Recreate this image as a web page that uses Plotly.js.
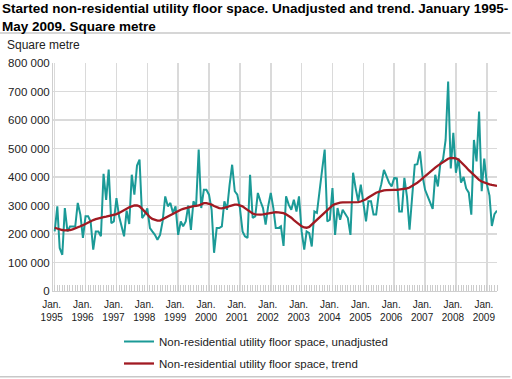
<!DOCTYPE html>
<html>
<head>
<meta charset="utf-8">
<script src="https://cdn.plot.ly/plotly-3.0.1.min.js"></script>
<style>
html,body{margin:0;padding:0;background:#fff;}
#chart{width:512px;height:379px;}
</style>
</head>
<body>
<div id="chart"></div>
<script>
// ---- data (square metre, monthly Jan 1995 - May 2009) ----
const startYear = 1995;
const yearLabels = ['1995','1996','1997','1998','1999','2000','2001','2002','2003','2004','2005','2006','2007','2008','2009'];

const unadjusted = [
  209000,297000,151000,127000,291000,209000,226000,226000,226000,309000,268000,186000,
  262000,262000,244000,145000,209000,209000,192000,411000,320000,426000,238000,244000,
  326000,262000,228000,192000,282000,235000,408000,338000,440000,461000,256000,268000,
  290000,221000,209000,197000,180000,197000,244000,332000,297000,309000,274000,297000,
  197000,244000,227000,244000,300000,214000,315000,297000,496000,291000,355000,355000,
  338000,285000,134000,221000,221000,227000,315000,285000,373000,443000,350000,338000,
  291000,209000,192000,186000,408000,256000,262000,344000,315000,291000,233000,297000,
  344000,290000,221000,221000,227000,158000,332000,303000,285000,320000,279000,332000,
  209000,145000,209000,203000,156000,279000,274000,361000,426000,496000,244000,250000,
  361000,197000,291000,250000,285000,270000,256000,197000,415000,361000,315000,373000,
  315000,244000,315000,315000,268000,268000,340000,375000,425000,402000,380000,367000,
  397000,395000,279000,279000,397000,330000,215000,330000,443000,445000,490000,405000,
  355000,332000,309000,288000,408000,367000,449000,461000,530000,735000,430000,555000,
  415000,465000,380000,400000,360000,345000,268000,530000,455000,630000,350000,465000,
  375000,335000,228000,270000,282000
];

const trend = [
  222000,219000,216000,214000,213000,213000,214000,216000,219000,223000,227000,231000,
  236000,241000,245000,249000,252000,255000,257000,259000,261000,263000,265000,267000,
  270000,274000,279000,284000,289000,294000,297000,300000,300000,297000,288000,278000,
  268000,259000,253000,249000,247000,247000,252000,256000,260000,265000,271000,277000,
  281000,285000,288000,291000,294000,296000,298000,299000,300000,304000,308000,308000,
  306000,303000,298000,294000,291000,290000,291000,294000,298000,301000,303000,303000,
  301000,297000,291000,284000,278000,272000,269000,268000,268000,269000,271000,273000,
  275000,277000,277000,276000,275000,273000,269000,264000,257000,249000,241000,233000,
  227000,223000,222000,225000,233000,242000,251000,260000,268000,277000,285000,293000,
  300000,305000,308000,310000,311000,311000,311000,311000,311000,311000,312000,314000,
  317000,322000,328000,334000,340000,345000,348000,351000,353000,354000,355000,355000,
  355000,355000,356000,357000,358000,360000,363000,368000,373000,380000,387000,395000,
  403000,411000,419000,426000,433000,440000,446000,452000,459000,464000,467000,467000,
  465000,461000,453000,443000,434000,424000,415000,405000,396000,390000,384000,380000,
  377000,374000,372000,371000,369000
];

const seriesNames = ['Non-residential utility floor space, unadjusted', 'Non-residential utility floor space, trend'];

// month dates for the x axis
const months = unadjusted.map((_, i) => {
  const y = startYear + Math.floor(i / 12);
  const m = (i % 12) + 1;
  return y + '-' + String(m).padStart(2, '0') + '-01';
});

// ---- layout geometry ----
const W = 512, H = 379;
const L = 53.3, R = 496.7, T = 63.3, B = 291.5;
const pw = R - L, ph = B - T;
const px2x = x => (x - L) / pw;
const px2y = y => (B - y) / ph;

const traces = [
  {x: months, y: unadjusted, type: 'scatter', mode: 'lines', name: seriesNames[0],
   legendgroup: 'u', line: {color: '#1b9a97', width: 2}},
  {x: months, y: trend, type: 'scatter', mode: 'lines', name: seriesNames[1],
   legendgroup: 't', line: {color: '#a11a22', width: 2.3}}
];

const grid = '#dadada';
const layout = {
  width: W, height: H,
  margin: {l: L, r: W - R, t: T, b: H - B, pad: 0, autoexpand: false},
  paper_bgcolor: '#fff', plot_bgcolor: '#fff',
  separators: ', ',
  font: {family: 'Liberation Sans, Arial, sans-serif', color: '#222'},
  title: {
    text: 'Started non-residential utility floor space. Unadjusted and trend. January 1995-<br>May 2009. Square metre',
    xref: 'container', x: 2 / W, xanchor: 'left',
    yref: 'container', y: 1 - 13 / H, yanchor: 'top', pad: {t: 0, l: 0},
    font: {size: 13.5, weight: 700, color: '#000'}
  },
  xaxis: {
    type: 'date', range: ['1994-12-12', '2009-05-01'],
    tickmode: 'array',
    tickvals: yearLabels.map(y => y + '-01-01'),
    ticktext: yearLabels.map(y => 'Jan.<br>' + y),
    tickangle: 0, ticks: '', tickfont: {size: 10, color: '#222'},
    ticklabelshift: -3, ticklabelstandoff: 4,
    showgrid: true, gridcolor: grid, gridwidth: 1.5,
    showline: true, linecolor: '#cfcfcf', linewidth: 1,
    zeroline: false, fixedrange: true,
    minor: {dtick: 'M1', tick0: '1995-01-01', ticks: 'inside', ticklen: 6, tickcolor: '#cccccc', tickwidth: 1, showgrid: false}
  },
  yaxis: {
    range: [0, 800000], tickmode: 'linear', tick0: 0, dtick: 100000,
    tickformat: ',d', ticks: '', tickfont: {size: 11.5, color: '#222'},
    showgrid: true, gridcolor: grid, gridwidth: 1.5,
    showline: true, linecolor: '#cfcfcf', linewidth: 1,
    zeroline: false, fixedrange: true
  },
  showlegend: true,
  legend: {
    orientation: 'v', xref: 'container', yref: 'container',
    x: 119 / W, xanchor: 'left', y: 1 - 327 / H, yanchor: 'top',
    font: {size: 11.5, color: '#222'}, tracegroupgap: 3,
    bgcolor: 'rgba(0,0,0,0)', borderwidth: 0
  },
  shapes: [
    {type: 'line', xref: 'paper', yref: 'paper', x0: px2x(0), x1: px2x(510), y0: px2y(33.3), y1: px2y(33.3),
     line: {color: '#c8c8c8', width: 1.5}},
    {type: 'line', xref: 'paper', yref: 'paper', x0: px2x(0), x1: px2x(510), y0: px2y(377.3), y1: px2y(377.3),
     line: {color: '#c8c8c8', width: 1.5}}
  ],
  annotations: [
    {text: 'Square metre', xref: 'paper', yref: 'paper', x: px2x(5), y: px2y(45),
     xanchor: 'left', yanchor: 'middle', showarrow: false, font: {size: 12, color: '#222'}}
  ]
};

Plotly.newPlot('chart', traces, layout, {displayModeBar: false, staticPlot: true});
</script>
</body>
</html>
